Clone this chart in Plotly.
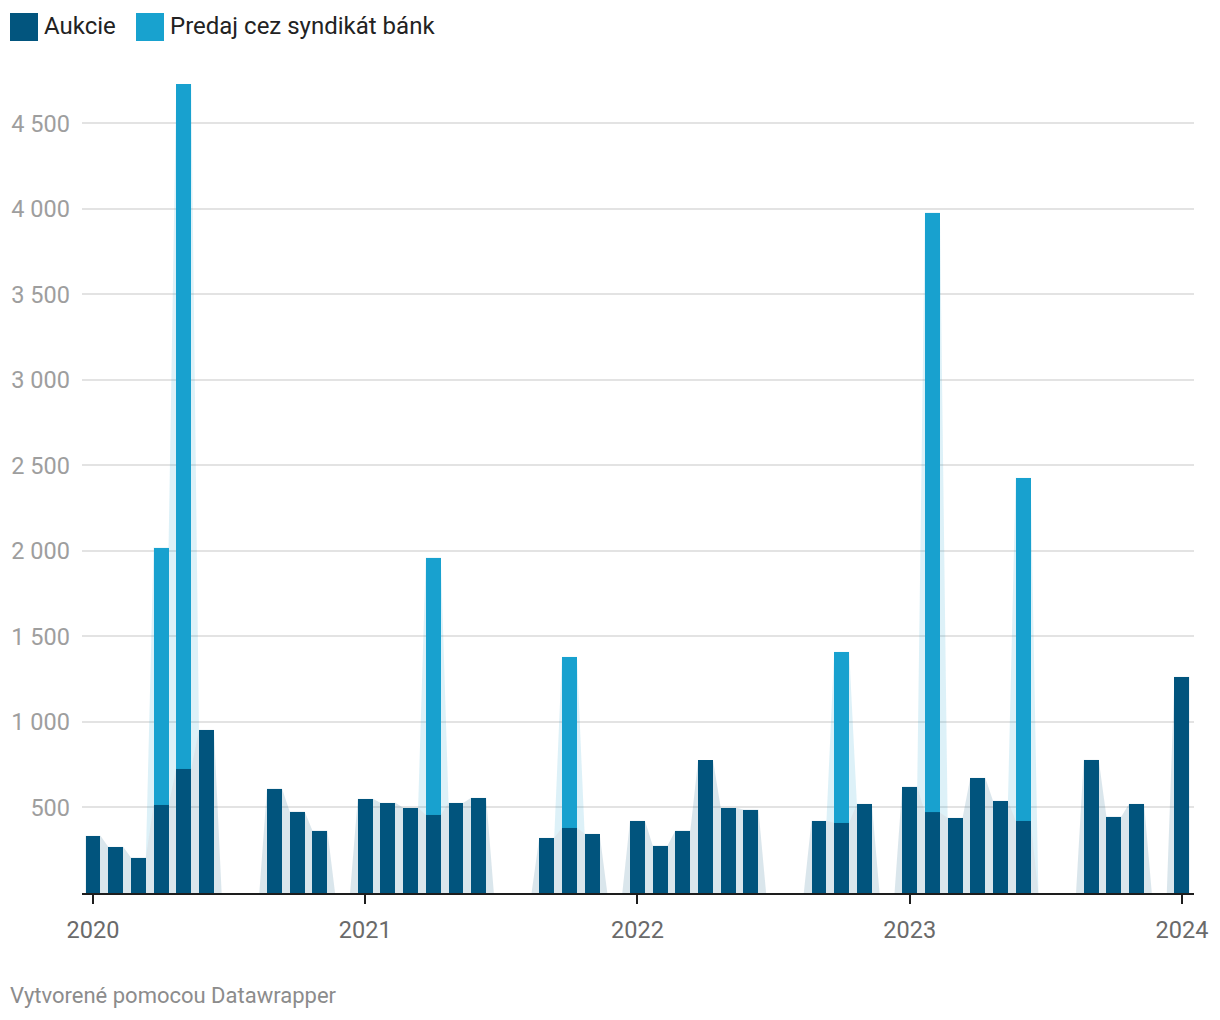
import plotly.graph_objects as go

months = [f"{y}-{m:02d}" for y in range(2020, 2024) for m in range(1, 13)] + ["2024-01"]

aukcie = [335, 271, 207, 516, 727, 955, 0, 0, 611, 476, 365, 0,
          551, 528, 499, 458, 528, 557, 0, 0, 323, 382, 347, 0,
          423, 277, 365, 775, 499, 488, 0, 0, 423, 411, 522, 0,
          622, 471, 440, 674, 540, 423, 0, 0, 779, 447, 522, 0,
          1265]
predaj = [0, 0, 0, 1504, 4003, 0, 0, 0, 0, 0, 0, 0,
          0, 0, 0, 1503, 0, 0, 0, 0, 0, 1000, 0, 0,
          0, 0, 0, 0, 0, 0, 0, 0, 0, 1000, 0, 0,
          0, 3507, 0, 0, 0, 2005, 0, 0, 0, 0, 0, 0,
          0]

year_ticks = ["2020", "2021", "2022", "2023", "2024"]
y_ticks = [500, 1000, 1500, 2000, 2500, 3000, 3500, 4000, 4500]

C_AUK = "#02557e"
C_PRE = "#18a2cf"
FONT = "Roboto"

W = 0.66
idx = list(range(len(months)))
total = [a + p for a, p in zip(aukcie, predaj)]

# connecting area: through left/right edges of each bar top
ax, ay, ty = [], [], []
for i in idx:
    ax += [i - W / 2, i + W / 2]
    ay += [aukcie[i], aukcie[i]]
    ty += [total[i], total[i]]

fig = go.Figure()
fig.add_trace(go.Scatter(x=ax, y=ay, mode="lines", line=dict(width=0),
                         fill="tozeroy", fillcolor="rgba(2,85,126,0.145)",
                         hoverinfo="skip", showlegend=False))
fig.add_trace(go.Scatter(x=ax, y=ty, mode="lines", line=dict(width=0),
                         fill="tonexty", fillcolor="rgba(24,162,207,0.15)",
                         hoverinfo="skip", showlegend=False))
fig.add_trace(go.Bar(x=idx, y=aukcie, width=W, marker=dict(color=C_AUK, line=dict(width=0)),
                     name="Aukcie", showlegend=False))
fig.add_trace(go.Bar(x=idx, y=predaj, width=W, marker=dict(color=C_PRE, line=dict(width=0)),
                     name="Predaj cez syndikát bánk", showlegend=False))

jan_idx = [i for i, m in enumerate(months) if m.endswith("-01")]

# page-pixel geometry (body margin 8px)
OFF = 8
L, R, T, B = 82, 1194, 70, 893.3
WID, HEI = 1220 - 2 * OFF, 1020 - 2 * OFF


def px(xp):
    return (xp - L) / (R - L)


def py(yp):
    return (B - yp) / (B - T)


shapes = []
annotations = []
# legend
for x0, label in [(10, "Aukcie"), (136, "Predaj cez syndikát bánk")]:
    shapes.append(dict(type="rect", xref="paper", yref="paper",
                       x0=px(x0), x1=px(x0 + 28), y0=py(41), y1=py(13),
                       fillcolor=C_AUK if label == "Aukcie" else C_PRE, line=dict(width=0)))
    annotations.append(dict(xref="paper", yref="paper", x=px(x0 + 32), y=py(26),
                            text=label, showarrow=False, xanchor="left", yanchor="middle",
                            font=dict(family=FONT, size=24, color="#222222")))
annotations.append(dict(xref="paper", yref="paper", x=px(8), y=py(996),
                        text="Vytvorené pomocou Datawrapper", showarrow=False,
                        xanchor="left", yanchor="middle",
                        font=dict(family=FONT, size=22, color="#8c8c8c")))

fig.update_layout(
    width=WID, height=HEI,
    margin=dict(l=L - OFF, r=WID - (R - OFF), t=T - OFF, b=HEI - (B - OFF), autoexpand=False),
    barmode="stack", bargap=0,
    plot_bgcolor="white", paper_bgcolor="white",
    shapes=shapes, annotations=annotations,
    font=dict(family=FONT),
    xaxis=dict(range=[-0.485, len(months) - 1 + 0.53], tickvals=jan_idx, ticktext=year_ticks,
               showgrid=False, zeroline=False, showline=True, linecolor="#1d1d1d", linewidth=2,
               ticks="outside", ticklen=9, tickwidth=2, tickcolor="#1d1d1d", automargin=False,
               ticklabelstandoff=6,
               tickfont=dict(family=FONT, size=23.5, color="#6a6a6a")),
    yaxis=dict(range=[0, (B - T) / 0.1711], tickvals=y_ticks,
               ticktext=[f"{v:,}".replace(",", " ") for v in y_ticks],
               showgrid=True, gridcolor="#e3e3e3", gridwidth=2, zeroline=False,
               ticks="", ticklabelstandoff=11, automargin=False,
               tickfont=dict(family=FONT, size=23.5, color="#9e9e9e")),
)

fig.write_html("out.html")
